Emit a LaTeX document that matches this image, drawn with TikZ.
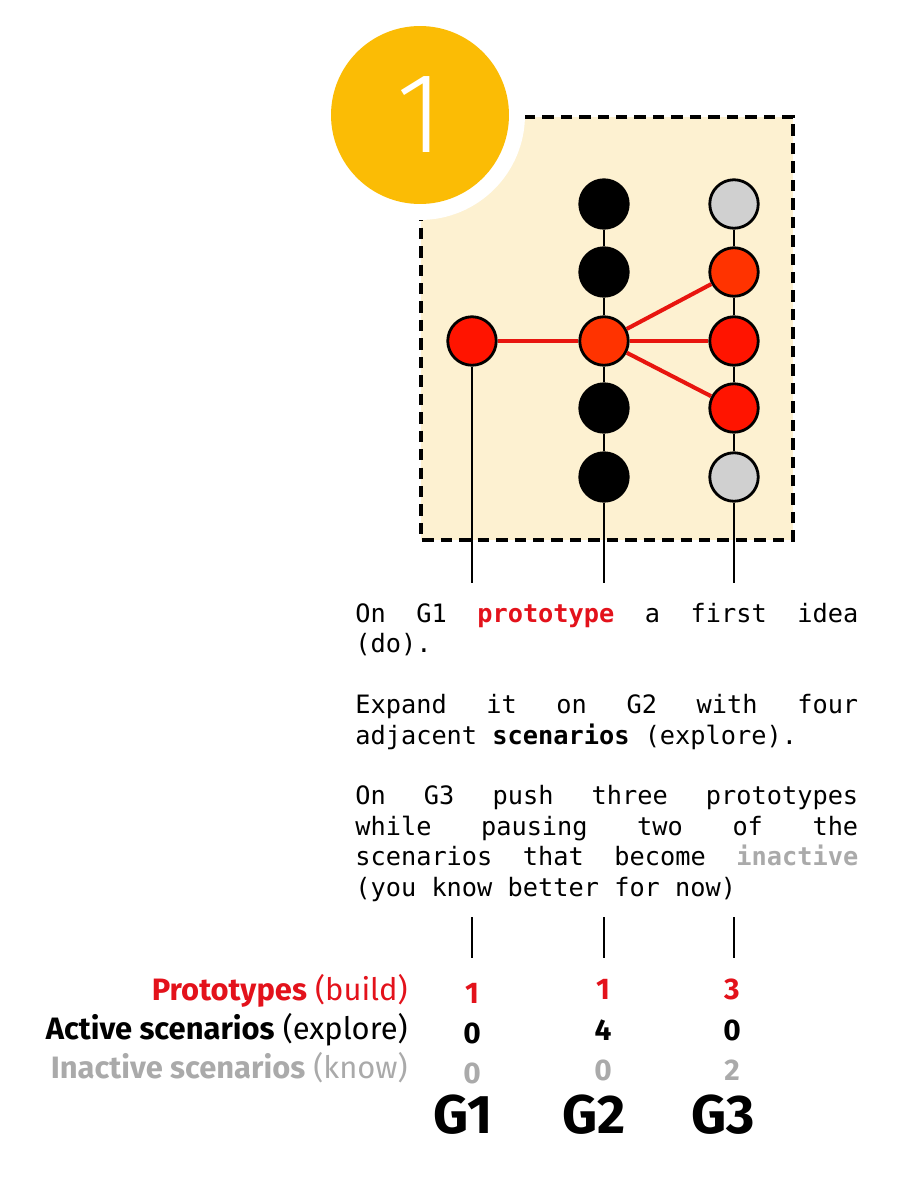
\documentclass[tikz,border=0pt]{standalone}
\usepackage{fontspec}
\setmainfont{Fira Sans}
\newfontfamily\testomono{DejaVu Sans Mono}
\newfontfamily\leggero{Fira Sans Light}
\usepackage{xcolor}
\usepackage{tikz}
\definecolor{giallo}{HTML}{FBBC05}
\definecolor{crema}{HTML}{FDF1D1}
\definecolor{rosso}{HTML}{FF1400}
\definecolor{arancio}{HTML}{FF3300}
\definecolor{grigio}{HTML}{D0D0D0}
\definecolor{rossotesto}{HTML}{E3121B}
\definecolor{grigiotesto}{HTML}{AAAAAA}
\definecolor{rossolinea}{HTML}{E8150F}
\setlength{\parindent}{0pt}

\begin{document}
\begin{tikzpicture}[x=0.02cm, y=-0.02cm,
    pallino/.style={circle, draw=black, line width=1.6pt, minimum size=0.97cm, inner sep=0pt},
    filo/.style={line width=1pt},
    legame/.style={rossolinea, line width=2.3pt},
    etichetta/.style={anchor=base east, inner sep=0pt, font=\fontsize{17.6}{20}\selectfont},
    cifra/.style={anchor=base, inner sep=0pt, font=\bfseries\fontsize{17}{20}\selectfont},
    colonna/.style={anchor=base, inner sep=0pt, font=\bfseries\fontsize{31}{31}\selectfont}]
                \useasboundingbox (0,0) rectangle (900,1180);

                % Riquadro
                \draw[line width=2.2pt, dash pattern=on 6.5pt off 4pt, fill=crema] (421,117) rectangle (793,540);

                % Cerchio
                \node[circle, fill=white, minimum size=4.2cm, inner sep=0pt] (anello) at (420,115) {};
                \node[circle, fill=giallo, minimum size=3.56cm, inner sep=0pt, text=white,
                      font=\leggero\fontsize{65}{65}\selectfont] (numero) at (420,115) {1};

                % G1
                \node[pallino, fill=rosso] (g1c) at (472,341) {};
                % G2
                \node[pallino, fill=black] (g2a) at (604,204) {};
                \node[pallino, fill=black] (g2b) at (604,272) {};
                \node[pallino, fill=arancio] (g2c) at (604,341) {};
                \node[pallino, fill=black] (g2d) at (604,408) {};
                \node[pallino, fill=black] (g2e) at (604,477) {};
                % G3
                \node[pallino, fill=grigio] (g3a) at (734,204) {};
                \node[pallino, fill=arancio] (g3b) at (734,272) {};
                \node[pallino, fill=rosso] (g3c) at (734,341) {};
                \node[pallino, fill=rosso] (g3d) at (734,408) {};
                \node[pallino, fill=grigio] (g3e) at (734,477) {};

                \coordinate (t1) at (472,583);
                \coordinate (t2) at (604,583);
                \coordinate (t3) at (734,583);

                \draw[filo] (g2a) -- (g2b);
                \draw[filo] (g2b) -- (g2c);
                \draw[filo] (g2c) -- (g2d);
                \draw[filo] (g2d) -- (g2e);
                \draw[filo] (g3a) -- (g3b);
                \draw[filo] (g3b) -- (g3c);
                \draw[filo] (g3c) -- (g3d);
                \draw[filo] (g3d) -- (g3e);
                \draw[filo] (g1c) -- (t1);
                \draw[filo] (g2e) -- (t2);
                \draw[filo] (g3e) -- (t3);

                \draw[legame] (g2c) -- (g1c);
                \draw[legame] (g2c) -- (g3b);
                \draw[legame] (g2c) -- (g3c);
                \draw[legame] (g2c) -- (g3d);

                % Testo
                \node[anchor=north west, inner sep=0pt, text width=10.06cm, align=justify,
                      font=\testomono\fontsize{14.4}{17.3}\selectfont] (testo) at (355,603)
                  {\spaceskip=0.602em plus 3em\relax\hyphenpenalty=10000
                   On G1 \textcolor{rossotesto}{\textbf{prototype}} a first idea\linebreak
                   (do).\par\vspace{\baselineskip}
                   Expand it on G2 with four\linebreak
                   adjacent \textbf{scenarios} (explore).\par\vspace{\baselineskip}
                   On G3 push three prototypes\linebreak
                   while pausing two of the\linebreak
                   scenarios that become \textcolor{grigiotesto}{\textbf{inactive}}\linebreak
                   (you know better for now)\par};

                \coordinate (s1) at (472,917);
                \coordinate (s2) at (604,917);
                \coordinate (s3) at (734,917);
                \coordinate (e1) at (472,958);
                \coordinate (e2) at (604,958);
                \coordinate (e3) at (734,958);
                \draw[filo] (s1) -- (e1);
                \draw[filo] (s2) -- (e2);
                \draw[filo] (s3) -- (e3);

                % Tabella
                \node[etichetta, text=rossotesto] (lproto) at (408,1000) {\textbf{Prototypes} (build)};
                \node[etichetta, text=black] (lattivi) at (408,1039) {\textbf{Active scenarios} (explore)};
                \node[etichetta, text=grigiotesto] (linattivi) at (408,1078) {\textbf{Inactive scenarios} (know)};

                \node[cifra, text=rossotesto] (p1) at (472,1003) {1};
                \node[cifra, text=rossotesto] (p2) at (603,999) {1};
                \node[cifra, text=rossotesto] (p3) at (732,999) {3};
                \node[cifra, text=black] (a1) at (472,1043) {0};
                \node[cifra, text=black] (a2) at (603,1040) {4};
                \node[cifra, text=black] (a3) at (732,1040) {0};
                \node[cifra, text=grigiotesto] (i1) at (472,1083) {0};
                \node[cifra, text=grigiotesto] (i2) at (603,1080) {0};
                \node[cifra, text=grigiotesto] (i3) at (732,1080) {2};

                \node[colonna] (c1) at (463,1133) {G1};
                \node[colonna] (c2) at (594,1133) {G2};
                \node[colonna] (c3) at (723,1133) {G3};
\end{tikzpicture}
\end{document}
